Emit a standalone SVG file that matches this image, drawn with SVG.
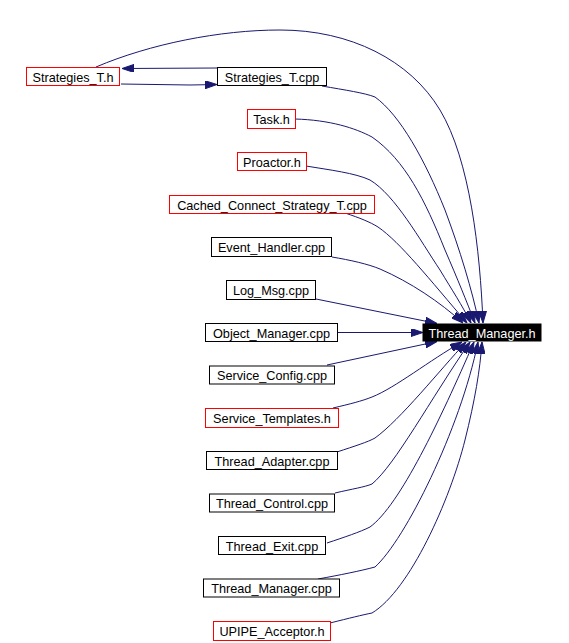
<svg xmlns="http://www.w3.org/2000/svg" width="569" height="643" viewBox="0 0 569 643">
<style>
.n rect{fill:#fff;stroke:#000;stroke-width:1}
.n.r rect{stroke:#f00}
.n text{font-family:"Liberation Sans",Arial,sans-serif;font-size:12.7px;fill:#000;text-anchor:middle}
#thread_manager_h rect{fill:#000;stroke:#000}
#thread_manager_h text{fill:#fff}
.e path{fill:none;stroke:#191970;stroke-width:1;marker-end:url(#ah)}
</style>
<defs>
<marker id="ah" markerWidth="12" markerHeight="8" refX="12" refY="4" orient="auto" markerUnits="userSpaceOnUse">
<path d="M0,0 L12,4 L0,8 z" fill="#191970" stroke="#191970" stroke-width="1"/>
</marker>
</defs>
<rect width="569" height="643" fill="#fff"/>
<g id="edges" class="e">
<path d="M96,67 C150,44 220,30 280,30 C350,30 410,60 440,110 C470,160 480,250 483,323"/>
<path d="M217,68 L122,68.5"/>
<path d="M121,84 L190,85 L217,84.5"/>
<path d="M322,86 C345,90 365,93 375,97 C400,115 425,160 445,210 C460,250 472,290 479,323"/>
<path d="M295,119 C330,120 355,128 372,137 C405,160 425,200 445,250 C458,280 466,300 475,323"/>
<path d="M306,166 C330,170 355,173 370,180 C395,195 420,240 440,270 C452,290 462,305 471,323"/>
<path d="M345,213 C360,218 370,222 378,227 C400,242 430,280 467,323"/>
<path d="M332,257 C350,260 368,264 380,269 C410,282 440,302 463,323"/>
<path d="M316,299 L437,323.5"/>
<path d="M338,332.5 L423,332.5"/>
<path d="M327,365 L437,341.5"/>
<path d="M333,408 C350,404 362,401 372,397 C395,388 430,360 462,342"/>
<path d="M337,452 C355,446 368,442 375,438 C400,420 440,370 466,342"/>
<path d="M335,493 C352,489 365,487 372,484 C395,465 430,400 470,342"/>
<path d="M327,543 C345,537 360,532 370,527 C400,505 440,420 474,342"/>
<path d="M318,579 C340,575 360,571 375,567 C405,540 460,430 478,342"/>
<path d="M330,623 C350,618 362,615 372,613 C410,590 450,500 465,440 C475,400 480,370 482,342"/>
</g>
<g id="strategies_t_h" class="n r"><rect x="26.5" y="67.5" width="93" height="18"/><text x="73" y="81.5">Strategies_T.h</text></g>
<g id="strategies_t_cpp" class="n"><rect x="217.5" y="67.5" width="109" height="18"/><text x="272" y="81.5">Strategies_T.cpp</text></g>
<g id="task_h" class="n r"><rect x="247.5" y="109.5" width="48" height="19"/><text x="271.5" y="124">Task.h</text></g>
<g id="proactor_h" class="n r"><rect x="237.5" y="152.5" width="69" height="18"/><text x="272" y="166.5">Proactor.h</text></g>
<g id="cached_connect_strategy_t_cpp" class="n r"><rect x="169.5" y="195.5" width="205" height="18"/><text x="272" y="209.5">Cached_Connect_Strategy_T.cpp</text></g>
<g id="event_handler_cpp" class="n"><rect x="211.5" y="237.5" width="120" height="19"/><text x="271.5" y="252">Event_Handler.cpp</text></g>
<g id="log_msg_cpp" class="n"><rect x="226.5" y="280.5" width="89" height="19"/><text x="271" y="295">Log_Msg.cpp</text></g>
<g id="object_manager_cpp" class="n"><rect x="205.5" y="323.5" width="132" height="18"/><text x="271.5" y="337.5">Object_Manager.cpp</text></g>
<g id="thread_manager_h" class="n"><rect x="423" y="324" width="118" height="17"/><text x="482" y="337.5">Thread_Manager.h</text></g>
<g id="service_config_cpp" class="n"><rect x="209.5" y="366" width="125" height="18"/><text x="272" y="380">Service_Config.cpp</text></g>
<g id="service_templates_h" class="n r"><rect x="205.5" y="408.5" width="133" height="19"/><text x="272" y="423">Service_Templates.h</text></g>
<g id="thread_adapter_cpp" class="n"><rect x="206.5" y="451.5" width="131" height="18"/><text x="272" y="465.5">Thread_Adapter.cpp</text></g>
<g id="thread_control_cpp" class="n"><rect x="209.5" y="494" width="125" height="18"/><text x="272" y="508">Thread_Control.cpp</text></g>
<g id="thread_exit_cpp" class="n"><rect x="218.5" y="536.5" width="107" height="18"/><text x="272" y="550.5">Thread_Exit.cpp</text></g>
<g id="thread_manager_cpp" class="n"><rect x="203.5" y="579" width="136" height="18"/><text x="271.5" y="593">Thread_Manager.cpp</text></g>
<g id="upipe_acceptor_h" class="n r"><rect x="213.5" y="621.5" width="117" height="19"/><text x="272" y="636">UPIPE_Acceptor.h</text></g>
</svg>
